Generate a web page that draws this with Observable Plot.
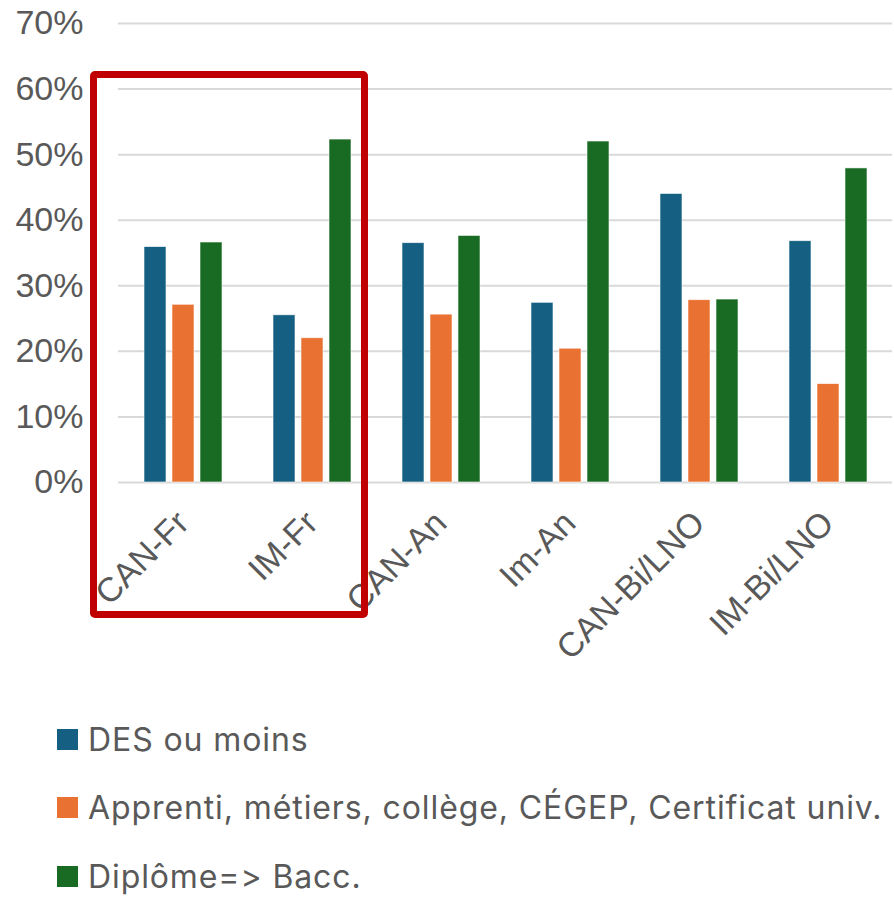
<!DOCTYPE html>
<html>
<head>
<meta charset="utf-8">
<script src="https://cdn.jsdelivr.net/npm/d3@7"></script>
<script src="https://cdn.jsdelivr.net/npm/@observablehq/plot@0.6"></script>
<style>
  html, body { margin: 0; padding: 0; background: #fff; }
  #wrap { position: relative; width: 894px; height: 897px; }
  #legend { padding-top: 5px; font-family: Inter, Roboto, sans-serif; font-size: 32px; letter-spacing: 0.9px; color: #595959;
            font-variant-ligatures: none; font-feature-settings: "calt" 0, "liga" 0; }
  .item { display: flex; align-items: center; height: 68.5px; padding-left: 57px; }
  .sw { width: 21px; height: 21px; margin-right: 10px; flex: none; }
  #box { position: absolute; left: 90px; top: 71px; width: 278px; height: 547px; box-sizing: border-box;
         border: 7px solid #c00000; border-radius: 5px; pointer-events: none; }
</style>
</head>
<body>
<div id="wrap">
  <div id="chart"></div>
  <div id="legend"></div>
  <div id="box"></div>
</div>
<script>
const categories = ["CAN-Fr", "IM-Fr", "CAN-An", "Im-An", "CAN-Bi/LNO", "IM-Bi/LNO"];
const seriesNames = ["DES ou moins", "Apprenti, métiers, collège, CÉGEP, Certificat univ.", "Diplôme=> Bacc."];
const desOuMoins = [35.9, 25.5, 36.5, 27.4, 44.0, 36.8];
const apprenti   = [27.1, 22.0, 25.6, 20.4, 27.8, 15.0];
const diplome    = [36.6, 52.3, 37.6, 52.0, 27.9, 47.9];
const colors = ["#156082", "#E97132", "#196B24"];
const yTicks = [0, 10, 20, 30, 40, 50, 60, 70];

const seriesValues = [desOuMoins, apprenti, diplome];
const data = categories.flatMap((c, i) =>
  seriesNames.map((s, j) => ({cat: c, series: s, value: seriesValues[j][i]})));

const chart = Plot.plot({
  width: 894,
  height: 700,
  marginLeft: 118,
  marginRight: 2,
  marginTop: 23,
  marginBottom: 218,
  style: {fontFamily: "'Liberation Sans', Arial, sans-serif", color: "#595959", background: "white", overflow: "visible"},
  fx: {domain: categories, padding: 0, label: null},
  x: {domain: seriesNames, paddingInner: 0.228, paddingOuter: 0.877, axis: null},
  y: {domain: [0, 70], label: null},
  color: {domain: seriesNames, range: colors},
  marks: [
    Plot.gridY(yTicks, {stroke: "#d9d9d9", strokeWidth: 2, strokeOpacity: 1}),
    Plot.axisY(yTicks, {tickFormat: d => d + "%", tickSize: 0, tickPadding: 35, fontSize: 34, label: null, fill: "#595959"}),
    Plot.axisFx({anchor: "bottom", tickRotate: -45, fontSize: 34, tickSize: 0, tickPadding: 35, label: null, fill: "#595959"}),
    Plot.barY(data, {fx: "cat", x: "series", y: "value", fill: "series", stroke: "white", strokeWidth: 0.8, strokeOpacity: 0.7})
  ]
});
document.getElementById("chart").appendChild(chart);

const legend = document.getElementById("legend");
seriesNames.forEach((s, i) => {
  const row = document.createElement("div");
  row.className = "item";
  const sw = document.createElement("span");
  sw.className = "sw";
  sw.style.background = colors[i];
  const t = document.createElement("span");
  t.textContent = s;
  row.appendChild(sw);
  row.appendChild(t);
  legend.appendChild(row);
});
</script>
</body>
</html>
